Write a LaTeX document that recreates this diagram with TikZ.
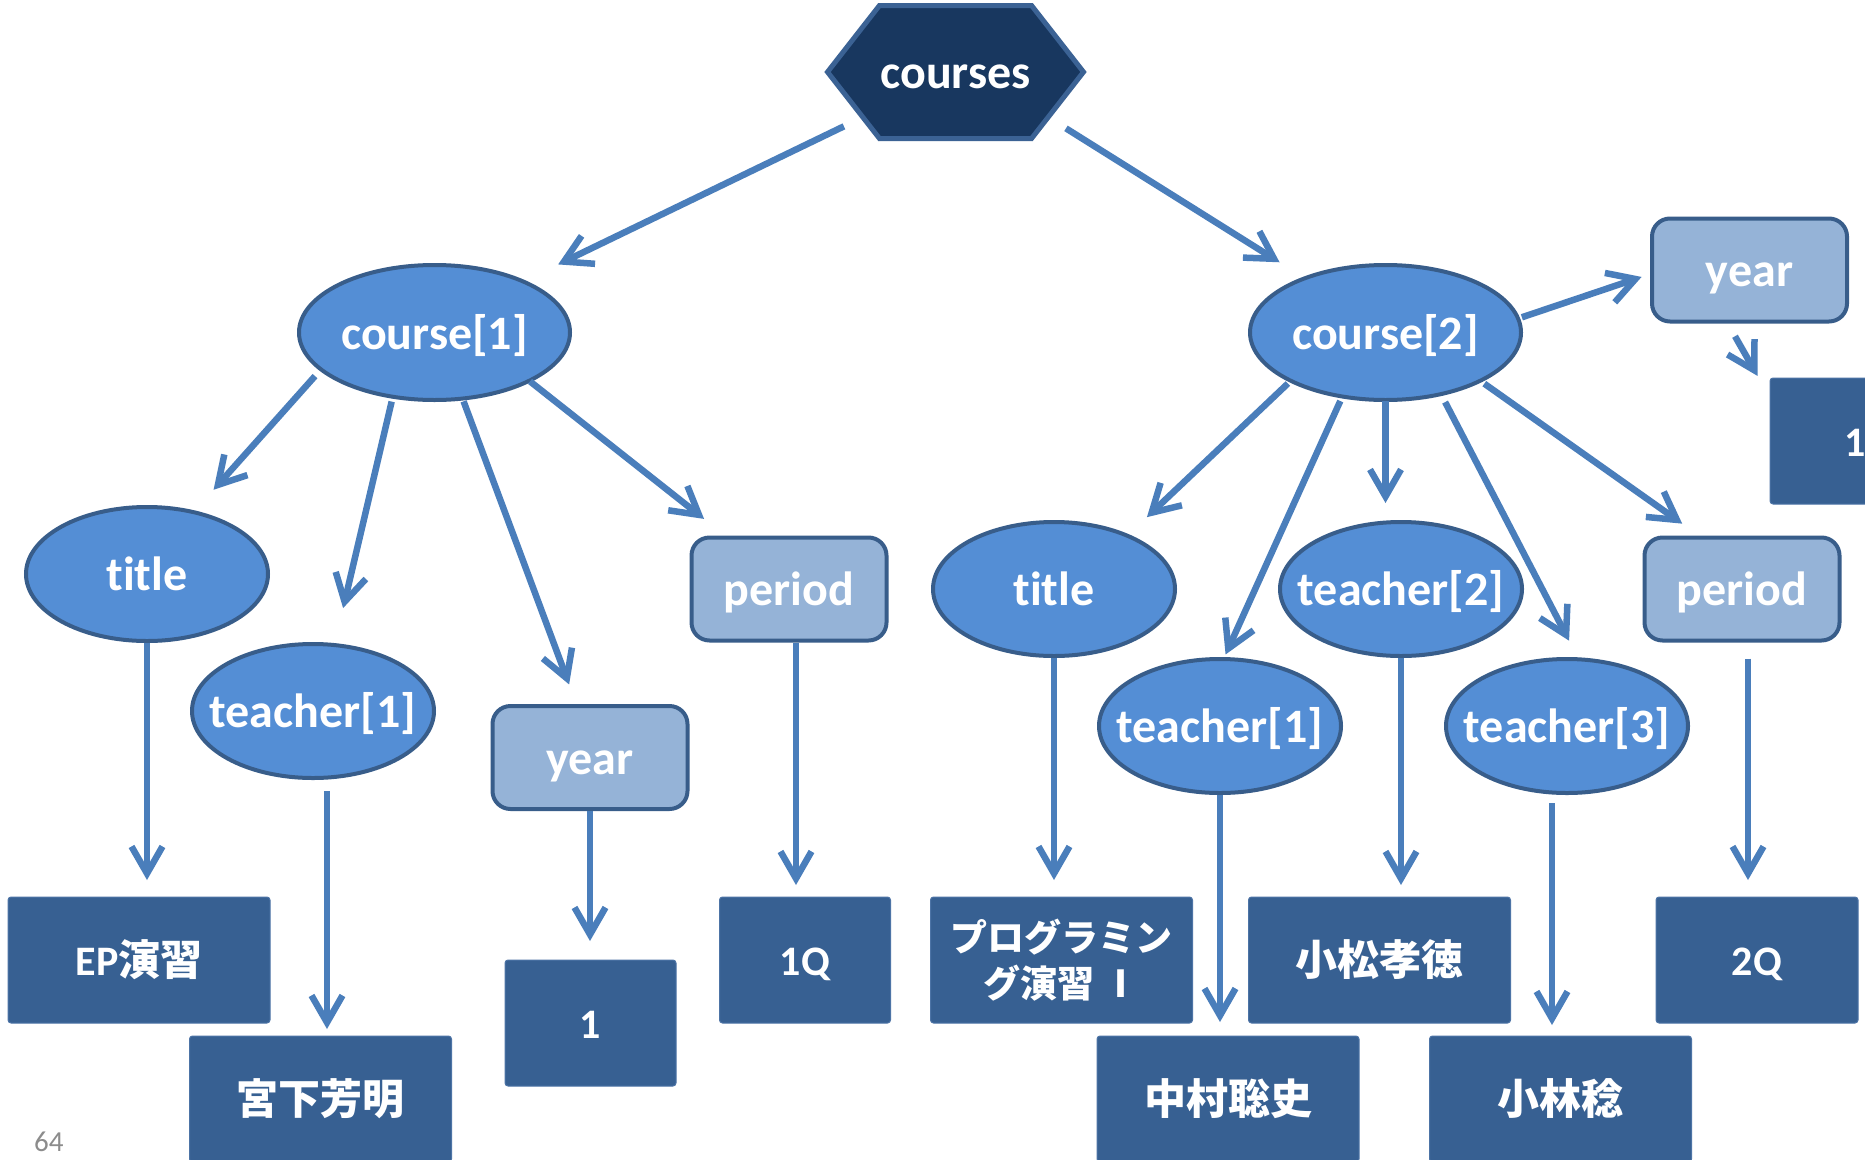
\documentclass[tikz,border=0pt]{standalone}
\usepackage{fontspec}
\setmainfont{Carlito}[Ligatures=NoCommon]
\newfontfamily\cjk{Noto Sans CJK JP}
\usetikzlibrary{arrows.meta,shapes.geometric,shapes.symbols}
\definecolor{hexfill}{HTML}{18375F}
\definecolor{hexline}{HTML}{3B6294}
\definecolor{ellfill}{HTML}{548ED5}
\definecolor{ellline}{HTML}{385D8A}
\definecolor{lightfill}{HTML}{95B3D7}
\definecolor{darkfill}{HTML}{376092}
\definecolor{darkline}{HTML}{4D74A6}
\definecolor{arrowc}{HTML}{4A7EBB}
\newcommand\bigf{\fontsize{48}{54}\selectfont\bfseries}
\newcommand\smf{\fontsize{42}{46}\selectfont\bfseries}
\newcommand\progf{\fontsize{37}{46}\selectfont\bfseries}
\newcommand\zb[1]{\makebox[0pt]{#1}}
\newcommand\jp[1]{{\cjk #1}}
\tikzset{
  hexnode/.style={signal, signal to=east and west, signal pointer angle=104,
    draw=hexline, fill=hexfill, line width=5pt, minimum width=256pt, minimum height=133pt,
    inner sep=0pt, outer sep=0pt, text=white, font=\bigf, text height=39pt, text depth=6pt},
  bigell/.style={ellipse, draw=ellline, fill=ellfill, line width=4pt, minimum width=271pt,
    minimum height=135pt, inner sep=0pt, outer sep=0pt, text=white, font=\bigf,
    text height=39pt, text depth=6pt},
  ell/.style={bigell, minimum width=242pt, minimum height=134pt},
  lightbox/.style={rectangle, rounded corners=18pt, draw=ellline, fill=lightfill, line width=4pt,
    minimum width=195pt, minimum height=103pt, inner sep=0pt, outer sep=0pt, text=white,
    font=\bigf, text height=39pt, text depth=6pt},
  darkbox/.style={rectangle, rounded corners=3pt, draw=darkline, fill=darkfill, line width=1pt,
    minimum width=262pt, minimum height=126pt, inner sep=0pt, outer sep=0pt, text=white,
    font=\smf, align=center},
  tb/.style={text height=35pt, text depth=4pt},
  arr/.style={draw=arrowc, line width=6.5pt, -{Straight Barb[length=27pt,width=31pt]}},
}
\begin{document}
\begin{tikzpicture}[x=1pt,y=-1pt]
\useasboundingbox (0,0) rectangle (1865,1159);
\clip (0,0) rectangle (1865,1159);
\fill[white] (0,0) rectangle (1865,1159);

% nodes
\node[hexnode] (courses) at (955.5,72) {\zb{courses}};
\node[bigell] (c1) at (434.5,332.5) {\zb{course[1]}};
\node[bigell] (c2) at (1385.5,332.5) {\zb{course[2]}};

\node[ell] (t1) at (147,574) {\zb{title}};
\node[ell] (te1) at (313,711) {\zb{teacher[1]}};
\node[lightbox] (y1) at (590,757.5) {year};
\node[lightbox] (p1) at (789,589) {period};

\node[ell] (t2) at (1054,589) {\zb{title}};
\node[ell] (te1r) at (1220,726) {\zb{teacher[1]}};
\node[ell] (te2) at (1401,589) {\zb{teacher[2]}};
\node[ell] (te3) at (1567,726) {\zb{teacher[3]}};
\node[lightbox] (p2) at (1742,589) {period};
\node[lightbox] (y2) at (1749.5,270) {year};

\node[darkbox, tb, minimum width=170pt] (oneR) at (1855,441) {1};
\node[darkbox, tb] (ep) at (139,960) {EP\jp{演習}};
\node[darkbox, tb] (miya) at (320.5,1099) {\jp{宮下芳明}};
\node[darkbox, tb, minimum width=171pt] (oneL) at (590.5,1023) {1};
\node[darkbox, tb, minimum width=171pt] (oneQ) at (805,960) {1Q};
\node[darkbox, font=\progf] (prog) at (1061.5,960) {\jp{プログラミン}\\\jp{グ演習 Ⅰ}};
\node[darkbox, tb] (naka) at (1228,1099) {\jp{中村聡史}};
\node[darkbox, tb] (koma) at (1379.5,960) {\jp{小松孝徳}};
\node[darkbox, tb] (koba) at (1560.5,1099) {\jp{小林稔}};
\node[darkbox, tb, minimum width=202pt] (q2) at (1757,960) {2Q};

\node[anchor=base west, text=black!45, font=\fontsize{29}{31}\selectfont, inner sep=0pt] (pnum) at (34,1151) {64};

% connectors
\draw[arr, shorten <=21pt, shorten >=39pt] (courses.206) -- (c1.30);
\draw[arr, shorten <=21pt, shorten >=30pt] (courses.-26) -- (c2.146.5);

\draw[arr, shorten <=9pt, shorten >=30pt] (c1.198) -- (t1.53);
\draw[arr, shorten <=5pt, shorten >=38pt] (c1.237) -- (te1.72.6);
\draw[arr, shorten <=3pt, shorten >=23pt] (c1.-67) -- (y1.104.6);
\draw[arr, shorten <=1pt, shorten >=30pt] (c1.-27) -- (p1.140.5);

\draw[arr, shorten <=2pt, shorten >=17pt] (t1.south) -- (t1.south |- ep.north);
\draw[arr, shorten <=13pt, shorten >=7pt] ([xshift=14pt]te1.south) -- ([xshift=14pt]te1.south |- miya.north);
\draw[arr, shorten <=2pt, shorten >=19pt] (y1.south) -- (y1.south |- oneL.north);
\draw[arr, shorten <=2pt, shorten >=12pt] ([xshift=7pt]p1.south) -- ([xshift=7pt]p1.south |- oneQ.north);

\draw[arr, shorten <=4pt, shorten >=27pt] (c2.207.4) -- (t2.36.7);
\draw[arr, shorten <=5pt, shorten >=5pt] (c2.236.4) -- (te1r.87.6);
\draw[arr, shorten <=1pt, shorten >=19pt] (c2.south) -- (c2.south |- te2.north);
\draw[arr, shorten <=9pt, shorten >=21pt] (c2.-48.5) -- (te3.80.2);
\draw[arr, shorten <=5pt, shorten >=24pt] (c2.-27.1) -- (p2.128.2);
\draw[arr, shorten <=4pt, shorten >=11pt] (c2.6.1) -- (y2.182.1);
\draw[arr, shorten <=17pt, shorten >=25pt] (y2.246.5) -- (oneR.153.6);

\draw[arr, shorten <=2pt, shorten >=17pt] (t2.south) -- (t2.south |- prog.north);
\draw[arr, shorten <=2pt, shorten >=14pt] (te1r.south) -- (te1r.south |- naka.north);
\draw[arr, shorten <=2pt, shorten >=12pt] (te2.south) -- (te2.south |- koma.north);
\draw[arr, shorten <=10pt, shorten >=11pt] ([xshift=-15pt]te3.south) -- ([xshift=-15pt]te3.south |- koba.north);
\draw[arr, shorten <=18pt, shorten >=17pt] ([xshift=6pt]p2.south) -- ([xshift=6pt]p2.south |- q2.north);
\end{tikzpicture}
\end{document}
